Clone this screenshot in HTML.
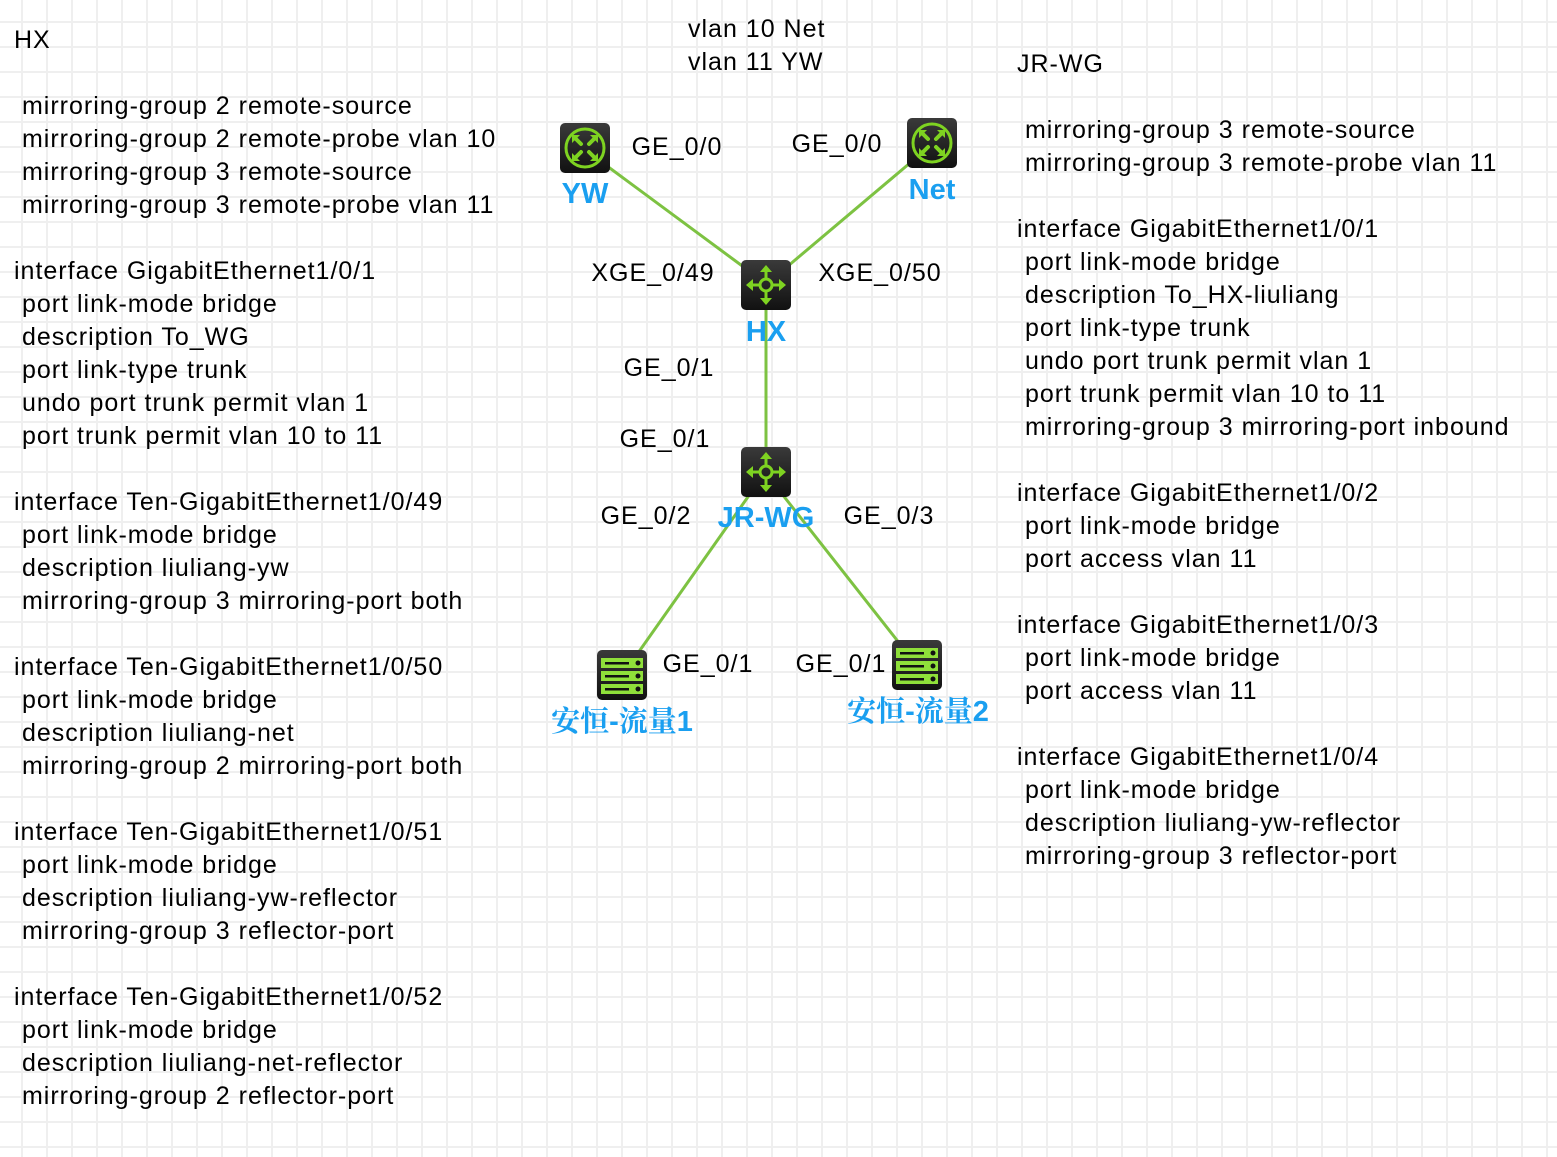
<!DOCTYPE html>
<html><head><meta charset="utf-8"><style>
html,body{margin:0;padding:0}
body{width:1557px;height:1157px;position:relative;overflow:hidden;background-color:#fff;
background-image:linear-gradient(to right,#efefef 2px,transparent 2px),linear-gradient(to bottom,#efefef 2px,transparent 2px);
background-size:25px 25px;background-position:21px 21px;font-family:"Liberation Sans",Arial,sans-serif;color:#000}
.t{position:absolute;white-space:pre;font-size:25px;letter-spacing:1px;line-height:33px}
.p{position:absolute;font-size:25px;letter-spacing:1px;line-height:28px;white-space:nowrap;transform:translate(-50%,-50%)}
.b{position:absolute;font-size:29px;font-weight:bold;color:#1a9ff0;white-space:nowrap;transform:translate(-50%,-50%);line-height:32px}
.c{font-family:"Liberation Serif","Noto Serif CJK SC",serif;font-size:29px}
svg{position:absolute;left:0;top:0}
</style></head><body>
<svg width="1557" height="1157" viewBox="0 0 1557 1157">
<defs>
<linearGradient id="g" x1="0" y1="0" x2="0" y2="1"><stop offset="0" stop-color="#3a3a3a"/><stop offset="1" stop-color="#111"/></linearGradient>
<g id="router">
<rect x="0" y="0" width="50" height="50" rx="5" fill="url(#g)"/>
<circle cx="25" cy="25" r="19" fill="none" stroke="#7ed321" stroke-width="3"/>
<g stroke="#7ed321" stroke-width="4" fill="none" stroke-linecap="round">
<path d="M15 15 L21 21 M35 15 L29 21 M15 35 L21 29 M35 35 L29 29"/>
</g>
<g fill="#7ed321">
<path d="M12 12 L20 12 L12 20Z M38 12 L30 12 L38 20Z M12 38 L20 38 L12 30Z M38 38 L30 38 L38 30Z"/>
</g>
</g>
<g id="switch">
<rect x="0" y="0" width="50" height="50" rx="5" fill="url(#g)"/>
<circle cx="25" cy="25" r="6" fill="none" stroke="#7ed321" stroke-width="3"/>
<g stroke="#7ed321" stroke-width="3" stroke-linecap="round"><path d="M25 8 V19 M25 31 V42 M8 25 H19 M31 25 H42"/></g>
<g fill="#7ed321"><path d="M25 5 L31 12 L19 12Z M25 45 L31 38 L19 38Z M5 25 L12 19 L12 31Z M45 25 L38 19 L38 31Z"/></g>
</g>
<g id="server">
<rect x="0" y="0" width="50" height="50" rx="5" fill="url(#g)"/>
<g fill="#8fe03a"><rect x="4" y="8" width="42" height="10"/><rect x="4" y="21" width="42" height="10"/><rect x="4" y="34" width="42" height="10"/></g>
<g fill="#111"><rect x="8" y="12" width="24" height="2.5"/><rect x="8" y="25" width="24" height="2.5"/><rect x="8" y="38" width="24" height="2.5"/>
<circle cx="41" cy="13" r="2.5"/><circle cx="41" cy="26" r="2.5"/><circle cx="41" cy="39" r="2.5"/></g>
</g>
</defs>
<g stroke="#7dc242" stroke-width="3" fill="none">
<line x1="607" y1="166" x2="745" y2="268"/>
<line x1="910" y1="163" x2="788" y2="266"/>
<line x1="766" y1="305" x2="766" y2="450"/>
<line x1="750" y1="494" x2="638" y2="653"/>
<line x1="782" y1="494" x2="900" y2="644"/>
</g>
<use href="#router" x="560" y="123"/>
<use href="#router" x="907" y="118"/>
<use href="#switch" x="741" y="260"/>
<use href="#switch" x="741" y="447"/>
<use href="#server" x="597" y="650"/>
<use href="#server" x="892" y="640"/>
</svg>

<div class="t" style="left:14px;top:24px">HX

 mirroring-group 2 remote-source
 mirroring-group 2 remote-probe vlan 10
 mirroring-group 3 remote-source
 mirroring-group 3 remote-probe vlan 11

interface GigabitEthernet1/0/1
 port link-mode bridge
 description To_WG
 port link-type trunk
 undo port trunk permit vlan 1
 port trunk permit vlan 10 to 11

interface Ten-GigabitEthernet1/0/49
 port link-mode bridge
 description liuliang-yw
 mirroring-group 3 mirroring-port both

interface Ten-GigabitEthernet1/0/50
 port link-mode bridge
 description liuliang-net
 mirroring-group 2 mirroring-port both

interface Ten-GigabitEthernet1/0/51
 port link-mode bridge
 description liuliang-yw-reflector
 mirroring-group 3 reflector-port

interface Ten-GigabitEthernet1/0/52
 port link-mode bridge
 description liuliang-net-reflector
 mirroring-group 2 reflector-port</div>

<div class="t" style="left:1017px;top:48px">JR-WG

 mirroring-group 3 remote-source
 mirroring-group 3 remote-probe vlan 11

interface GigabitEthernet1/0/1
 port link-mode bridge
 description To_HX-liuliang
 port link-type trunk
 undo port trunk permit vlan 1
 port trunk permit vlan 10 to 11
 mirroring-group 3 mirroring-port inbound

interface GigabitEthernet1/0/2
 port link-mode bridge
 port access vlan 11

interface GigabitEthernet1/0/3
 port link-mode bridge
 port access vlan 11

interface GigabitEthernet1/0/4
 port link-mode bridge
 description liuliang-yw-reflector
 mirroring-group 3 reflector-port</div>

<div class="t" style="left:688px;top:13px">vlan 10 Net
vlan 11 YW</div>

<div class="p" style="left:677px;top:147px">GE_0/0</div>
<div class="p" style="left:837px;top:144px">GE_0/0</div>
<div class="p" style="left:653px;top:273px">XGE_0/49</div>
<div class="p" style="left:880px;top:273px">XGE_0/50</div>
<div class="p" style="left:669px;top:368px">GE_0/1</div>
<div class="p" style="left:665px;top:439px">GE_0/1</div>
<div class="p" style="left:646px;top:516px">GE_0/2</div>
<div class="p" style="left:889px;top:516px">GE_0/3</div>
<div class="p" style="left:708px;top:664px">GE_0/1</div>
<div class="p" style="left:841px;top:664px">GE_0/1</div>

<div class="b" style="left:585px;top:194px">YW</div>
<div class="b" style="left:932px;top:190px">Net</div>
<div class="b" style="left:766px;top:332px">HX</div>
<div class="b" style="left:766px;top:518px">JR-WG</div>
<div class="b" style="left:622px;top:722px"><span class="c">安恒</span>-<span class="c">流量</span>1</div>
<div class="b" style="left:918px;top:712px"><span class="c">安恒</span>-<span class="c">流量</span>2</div>
</body></html>
